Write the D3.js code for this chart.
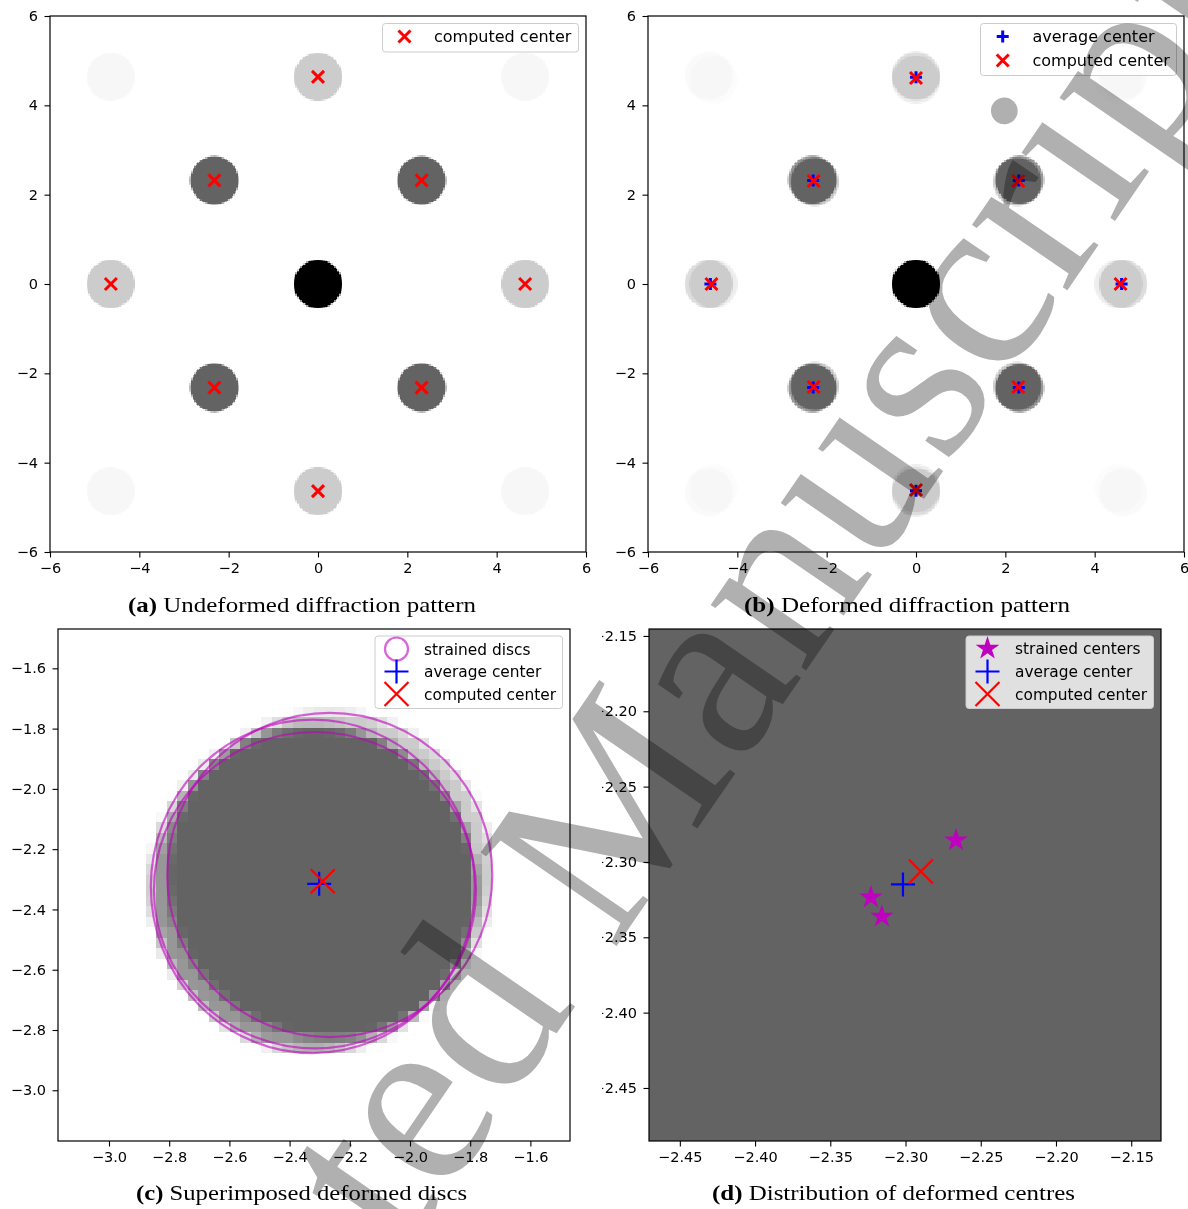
<!DOCTYPE html>
<html>
<head>
<meta charset="utf-8">
<script src="https://cdn.jsdelivr.net/npm/d3@7"></script>
<style>
  body { margin: 0; background: #fff; }
  .cap { font-family: "Liberation Serif", serif; }
</style>
</head>
<body>
<div id="fig"></div>
<script>
var svgWidth = 1188;
var svgHeight = 1209;

// reciprocal lattice discs of the undeformed pattern
var discX = [0, 0, 0, -2.319, 2.319, -2.319, 2.319, -4.637, 4.637, -4.637, 4.637, -4.637, 4.637];
var discY = [0, 4.637, -4.637, 2.319, 2.319, -2.319, -2.319, 0, 0, 4.637, 4.637, -4.637, -4.637];
var discI = [1.0, 0.20, 0.20, 0.61, 0.61, 0.61, 0.61, 0.20, 0.20, 0.03, 0.03, 0.03, 0.03];
var discR = 0.54;
var pixelCount = 345;   // image pixels per side over [-6, 6]

// reflections with a marked centre
var markX = [0, -2.319, 2.319, -4.637, 4.637, -2.319, 2.319, 0];
var markY = [4.637, 2.319, 2.319, 0, 0, -2.319, -2.319, -4.637];
var avgX  = [0, -2.302, 2.302, -4.603, 4.603, -2.302, 2.302, 0];
var avgY  = [4.629, 2.315, 2.315, 0, 0, -2.315, -2.315, -4.629];
var compX = [0, -2.290, 2.290, -4.579, 4.579, -2.290, 2.290, 0];
var compY = [4.612, 2.306, 2.306, 0, 0, -2.306, -2.306, -4.612];

// three strain states (diagonal stretch of the lattice)
var strainX = [0.97749, 1.00186, 0.99871];
var strainY = [0.98572, 1.00207, 1.00755];

// the (-1,-1) disc under the three strains
var strainedCx = [-2.2665, -2.3230, -2.3157];
var strainedCy = [-2.2856, -2.3235, -2.3362];
var strainedRx = [0.540, 0.538, 0.535];
var strainedRy = [0.538, 0.553, 0.525];
var averageCenter = [-2.3017, -2.3149];
var computedCenter = [-2.2898, -2.3063];

// ticks
var ticksAB = [-6, -4, -2, 0, 2, 4, 6];
var ticksC = [-3.0, -2.8, -2.6, -2.4, -2.2, -2.0, -1.8, -1.6];
var ticksD = [-2.45, -2.40, -2.35, -2.30, -2.25, -2.20, -2.15];

var svg = d3.select("#fig").append("svg")
    .attr("width", svgWidth)
    .attr("height", svgHeight);

svg.append("rect").attr("width", svgWidth).attr("height", svgHeight).attr("fill", "#fff");

var defs = svg.append("defs");
var grey = d3.scaleLinear().domain([0, 1]).range(["#ffffff", "#000000"]);
var pix = 12 / (pixelCount - 1);
var pixScale = d3.scaleLinear().domain([0, pixelCount - 1]).range([-6, 6]);

function cover(dx, dy) {
    var d = Math.sqrt(dx * dx + dy * dy);
    return Math.max(0, Math.min(1, (discR - d) / pix + 0.5));
}

function intensity(px, py, deformed) {
    var v = 0;
    discX.forEach(function(gx, k) {
        var gy = discY[k];
        if (!deformed) {
            v += discI[k] * cover(px - gx, py - gy);
        } else {
            strainX.forEach(function(sx, s) {
                v += discI[k] / 3 * cover(px - gx * sx, py - gy * strainY[s]);
            });
        }
    });
    return Math.min(v, 1);
}

function cells(deformed, xr, yr) {
    var out = [];
    for (var i = 0; i < pixelCount; i++) {
        var x = pixScale(i);
        if (x + pix < xr[0] || x - pix > xr[1]) continue;
        for (var j = 0; j < pixelCount; j++) {
            var y = pixScale(j);
            if (y + pix < yr[0] || y - pix > yr[1]) continue;
            var v = intensity(x, y, deformed);
            if (v > 0.004) out.push({x: x, y: y, v: v});
        }
    }
    return out;
}

function makePanel(name, left, top, size, domX, domY, ticks, fmt, tickFont) {
    var x = d3.scaleLinear().domain(domX).range([left, left + size]);
    var y = d3.scaleLinear().domain(domY).range([top + size, top]);
    defs.append("clipPath").attr("id", "clip-" + name)
        .append("rect").attr("x", left).attr("y", top).attr("width", size).attr("height", size);
    var g = svg.append("g");
    var plot = g.append("g").attr("clip-path", "url(#clip-" + name + ")");

    var xAxis = d3.axisBottom(x).tickValues(ticks).tickFormat(d3.format(fmt))
        .tickSizeOuter(0).tickSize(5.5).tickPadding(5.5);
    var yAxis = d3.axisLeft(y).tickValues(ticks).tickFormat(d3.format(fmt))
        .tickSizeOuter(0).tickSize(5.5).tickPadding(6.5);
    var ax = g.append("g").attr("transform", `translate(0, ${top + size})`).call(xAxis);
    var ay = g.append("g").attr("transform", `translate(${left}, 0)`).call(yAxis);
    [ax, ay].forEach(function(a) {
        a.attr("font-family", "DejaVu Sans").attr("font-size", tickFont);
        a.select(".domain").remove();
        a.selectAll("line").attr("stroke", "#000").attr("stroke-width", 1.1);
        a.selectAll("text").attr("fill", "#000");
    });
    return {g: g, plot: plot, x: x, y: y, left: left, top: top, size: size, axY: ay};
}

function drawCells(p, data) {
    p.plot.append("g").selectAll("rect")
        .data(data)
        .enter()
        .append("rect")
        .attr("x", d => Math.round(p.x(d.x - pix / 2)))
        .attr("y", d => Math.round(p.y(d.y + pix / 2)))
        .attr("width", d => Math.round(p.x(d.x + pix / 2)) - Math.round(p.x(d.x - pix / 2)))
        .attr("height", d => Math.round(p.y(d.y - pix / 2)) - Math.round(p.y(d.y + pix / 2)))
        .attr("fill", d => grey(d.v))
        .attr("shape-rendering", "crispEdges");
}

function frame(p) {
    p.g.append("rect")
        .attr("x", p.left).attr("y", p.top)
        .attr("width", p.size).attr("height", p.size)
        .attr("fill", "none").attr("stroke", "#000").attr("stroke-width", 1.2);
}

function plusPath(s) { return `M${-s},0H${s}M0,${-s}V${s}`; }
function crossPath(s) { return `M${-s},${-s}L${s},${s}M${-s},${s}L${s},${-s}`; }

function marker(g, kind, cx, cy, s, w) {
    if (kind === "plus") {
        g.append("path").attr("d", plusPath(s)).attr("transform", `translate(${cx},${cy})`)
            .attr("stroke", "#0000ff").attr("stroke-width", w).attr("fill", "none");
    } else if (kind === "cross") {
        g.append("path").attr("d", crossPath(s)).attr("transform", `translate(${cx},${cy})`)
            .attr("stroke", "#ff0000").attr("stroke-width", w).attr("fill", "none");
    } else if (kind === "star") {
        g.append("path").attr("d", d3.symbol(d3.symbolStar, 175)()).attr("transform", `translate(${cx},${cy})`)
            .attr("fill", "#bf00bf");
    } else if (kind === "ring") {
        g.append("circle").attr("cx", cx).attr("cy", cy).attr("r", s)
            .attr("fill", "none").attr("stroke", "#bf00bf").attr("stroke-opacity", 0.6).attr("stroke-width", w);
    }
}

function legend(box, items, mx, tx, fs, s, w) {
    var lg = svg.append("g");
    lg.append("rect")
        .attr("x", box[0]).attr("y", box[1]).attr("width", box[2]).attr("height", box[3])
        .attr("rx", 3).attr("fill", "#fff").attr("fill-opacity", 0.8)
        .attr("stroke", "#cccccc").attr("stroke-width", 1);
    items.forEach(function(it) {
        marker(lg, it.kind, mx, it.y, it.kind === "ring" ? 11.5 : s, w);
        lg.append("text").attr("x", tx).attr("y", it.y).attr("dy", "0.36em")
            .attr("font-family", "DejaVu Sans").attr("font-size", fs).attr("fill", "#000")
            .text(it.label);
    });
}

function caption(cx, cy, len, bold, rest) {
    var t = svg.append("text").attr("class", "cap")
        .attr("x", cx).attr("y", cy)
        .attr("font-size", 21).attr("fill", "#000")
        .attr("textLength", len).attr("lengthAdjust", "spacingAndGlyphs");
    t.append("tspan").attr("font-weight", "bold").text(bold);
    t.append("tspan").text(" " + rest);
}

// (a) undeformed pattern
var pa = makePanel("a", 50, 16, 536, [-6, 6], [-6, 6], ticksAB, "d", 14.5);
drawCells(pa, cells(false, [-6.1, 6.1], [-6.1, 6.1]));
markX.forEach(function(mx, k) {
    marker(pa.plot, "cross", pa.x(mx), pa.y(markY[k]), 6, 3);
});
frame(pa);
legend([382.5, 23.5, 196, 28.5], [{kind: "cross", label: "computed center", y: 36.5}], 404.5, 434, 16, 6, 3);
caption(128, 612, 348, "(a)", "Undeformed diffraction pattern");

// (b) deformed pattern
var pb = makePanel("b", 648, 16, 536, [-6, 6], [-6, 6], ticksAB, "d", 14.5);
drawCells(pb, cells(true, [-6.1, 6.1], [-6.1, 6.1]));
avgX.forEach(function(ax, k) {
    marker(pb.plot, "plus", pb.x(ax), pb.y(avgY[k]), 6, 3);
});
compX.forEach(function(cx, k) {
    marker(pb.plot, "cross", pb.x(cx), pb.y(compY[k]), 6, 3);
});
frame(pb);
legend([980.5, 23.5, 196, 52],
    [{kind: "plus", label: "average center", y: 36.5}, {kind: "cross", label: "computed center", y: 60.5}],
    1002.7, 1032.5, 16, 6, 3);
caption(744, 612, 326, "(b)", "Deformed diffraction pattern");

// (c) superimposed strained discs
var domCx = [-3.1694, -1.4684], domCy = [-3.1683, -1.4695];
var pc = makePanel("c", 58, 629, 512, domCx, domCy, ticksC, ".1f", 14.5);
drawCells(pc, cells(true, domCx, domCy));
pc.plot.append("g").selectAll("ellipse")
    .data(strainedCx)
    .enter()
    .append("ellipse")
    .attr("cx", d => pc.x(d))
    .attr("cy", (d, i) => pc.y(strainedCy[i]))
    .attr("rx", (d, i) => pc.x(d + strainedRx[i]) - pc.x(d))
    .attr("ry", (d, i) => pc.y(strainedCy[i]) - pc.y(strainedCy[i] + strainedRy[i]))
    .attr("fill", "none")
    .attr("stroke", "#bf00bf")
    .attr("stroke-opacity", 0.6)
    .attr("stroke-width", 2.2);
marker(pc.plot, "plus", pc.x(averageCenter[0]), pc.y(averageCenter[1]), 12, 2.2);
marker(pc.plot, "cross", pc.x(computedCenter[0]), pc.y(computedCenter[1]), 12, 2.2);
frame(pc);
legend([375, 636, 187.5, 72.5],
    [{kind: "ring", label: "strained discs", y: 649}, {kind: "plus", label: "average center", y: 671.5},
     {kind: "cross", label: "computed center", y: 694}],
    396.5, 424, 15.4, 12, 2.2);
caption(136, 1200, 331, "(c)", "Superimposed deformed discs");

// (d) distribution of the strained centres
var domDx = [-2.4705, -2.1302], domDy = [-2.4852, -2.1454];
var pd = makePanel("d", 649, 629, 512, domDx, domDy, ticksD, ".2f", 14.5);
// the left column crops the leading minus signs of these labels
defs.append("clipPath").attr("id", "clip-dlabels")
    .append("rect").attr("x", 602 - 649).attr("y", 600).attr("width", 100).attr("height", 560);
pd.axY.attr("clip-path", "url(#clip-dlabels)");
drawCells(pd, cells(true, domDx, domDy));
strainedCx.forEach(function(sx, k) {
    marker(pd.plot, "star", pd.x(sx), pd.y(strainedCy[k]), 12, 2.2);
});
marker(pd.plot, "plus", pd.x(averageCenter[0]), pd.y(averageCenter[1]), 12, 2.2);
marker(pd.plot, "cross", pd.x(computedCenter[0]), pd.y(computedCenter[1]), 12, 2.2);
frame(pd);
legend([966, 636, 187.5, 72.5],
    [{kind: "star", label: "strained centers", y: 648.5}, {kind: "plus", label: "average center", y: 671.5},
     {kind: "cross", label: "computed center", y: 694}],
    987.5, 1015, 15.4, 12, 2.2);
caption(712, 1200, 363, "(d)", "Distribution of deformed centres");

// journal watermark
svg.append("text")
    .attr("transform", "translate(38,1788) rotate(-55.5)")
    .attr("font-family", "Liberation Serif")
    .attr("font-size", 252)
    .attr("fill", "#b0b0b0")
    .style("mix-blend-mode", "multiply")
    .text("Accepted Manuscript");
</script>
</body>
</html>
